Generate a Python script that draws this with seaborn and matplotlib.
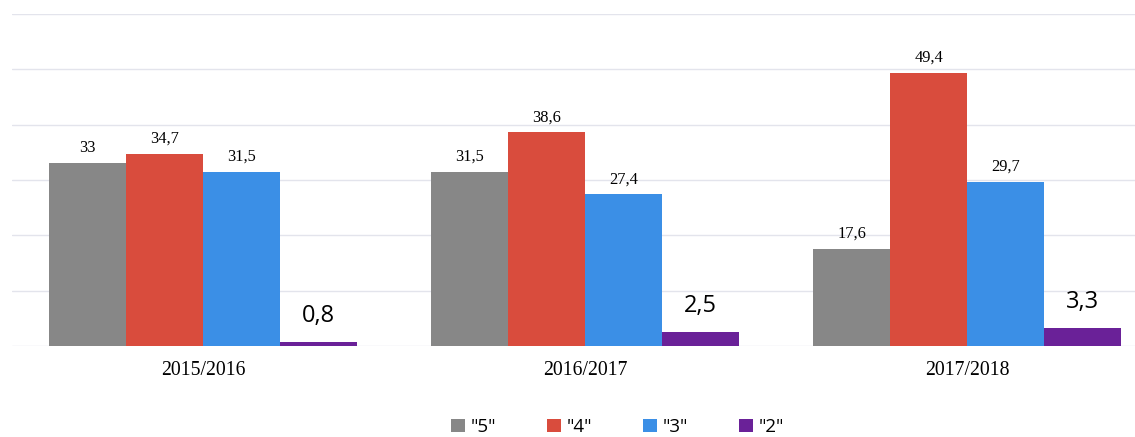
import pandas as pd
import matplotlib.pyplot as plt
import seaborn as sns

# data
years = ["2015/2016", "2016/2017", "2017/2018"]
grades = ['"5"', '"4"', '"3"', '"2"']
grade5 = [33, 31.5, 17.6]
grade4 = [34.7, 38.6, 49.4]
grade3 = [31.5, 27.4, 29.7]
grade2 = [0.8, 2.5, 3.3]

colors = ["#878787", "#d94c3d", "#3b8fe6", "#6a2198"]

df = pd.DataFrame({
    "year": years * 4,
    "grade": [g for g in grades for _ in years],
    "value": grade5 + grade4 + grade3 + grade2,
})

sns.set_style("white")
plt.rcParams["text.color"] = "black"
plt.rcParams["xtick.color"] = "black"

fig = plt.figure(figsize=(11.35, 4.37), dpi=100)
ax = fig.add_axes([12 / 1135, 0.2082, 1 - 12 / 1135, 0.760])

sns.barplot(data=df, x="year", y="value", hue="grade", hue_order=grades,
            palette=colors, width=0.806, gap=0, ax=ax, legend=True,
            edgecolor="none", saturation=1)

ax.set_xlim(-0.5, 2.5 - 23 / 382)
ax.set_ylim(0, 60)
ax.set_yticks(range(0, 61, 10))
ax.yaxis.grid(True, color="#e3e4ec", lw=1)
ax.set_axisbelow(True)
ax.tick_params(axis="y", left=False, labelleft=False)
ax.tick_params(axis="x", bottom=False, pad=7)
for s in ax.spines.values():
    s.set_visible(False)
ax.set_xlabel("")
ax.set_ylabel("")
for lab in ax.get_xticklabels():
    lab.set_fontfamily("Liberation Serif")
    lab.set_fontsize(14.2)
    lab.set_color("black")

fmt = lambda v: f"{v:g}".replace(".", ",")
for i, cont in enumerate(ax.containers):
    labels = [fmt(v) for v in cont.datavalues]
    if i < 3:
        ax.bar_label(cont, labels=labels, padding=5, fontsize=11.8,
                     fontfamily="Liberation Serif", color="black")
    else:
        ax.bar_label(cont, labels=labels, padding=10, fontsize=17,
                     fontfamily="Open Sans", color="black")

handles, lbls = ax.get_legend_handles_labels()
ax.get_legend().remove()
fig.legend(handles, lbls, loc="center", bbox_to_anchor=(0.544, 0.023),
           ncol=4, frameon=False, handlelength=0.75,
           handleheight=0.75, handletextpad=0.3, columnspacing=2.7,
           prop={"family": "Open Sans", "size": 13.5})

fig.savefig("out.png", dpi=100)
